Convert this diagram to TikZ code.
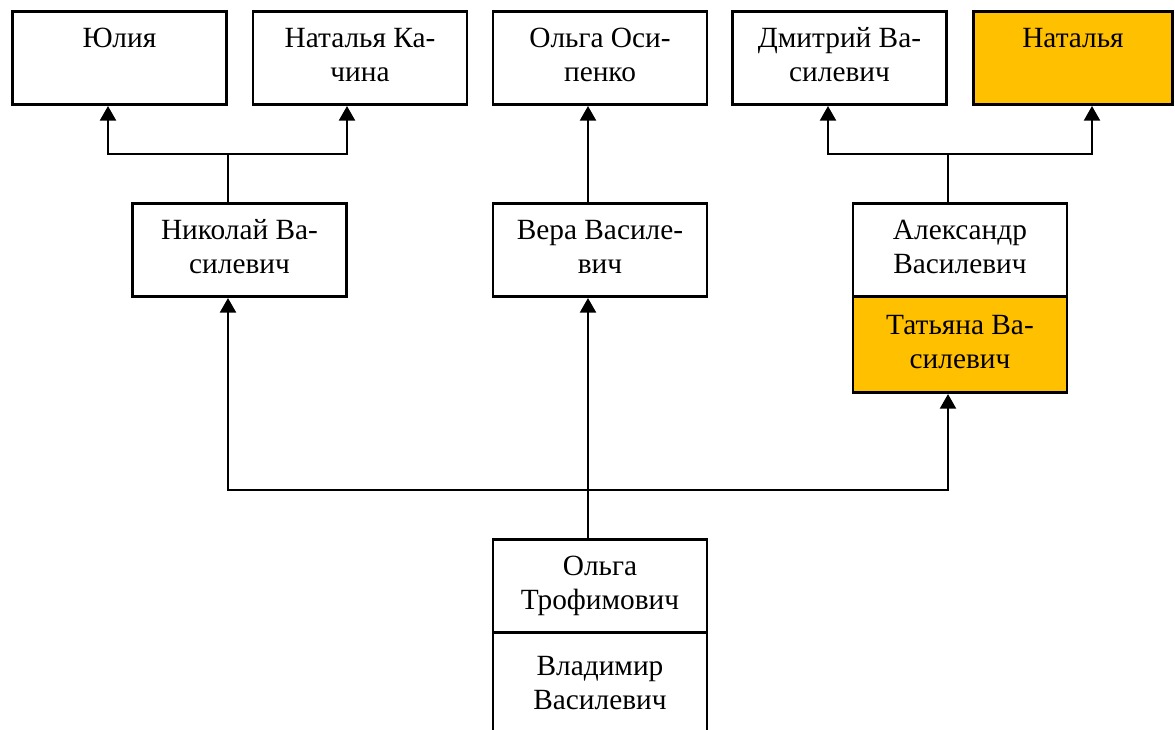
\documentclass[tikz,border=0pt]{standalone}
\usepackage{fontspec}
\setmainfont{Liberation Serif}
\usetikzlibrary{arrows.meta, positioning}
\definecolor{famgold}{RGB}{255,192,0}

\begin{document}
\begin{tikzpicture}[x=0.75pt, y=-0.75pt,
    >={Triangle[length=11pt, width=12pt]},
    person/.style={draw, line width=2pt, fill=white, minimum width=160.5pt, minimum height=70pt,
        text width=145pt, align=center, inner sep=0pt, font=\fontsize{22pt}{25.5pt}\selectfont,
        execute at begin node={\spaceskip=.25em\strut}, execute at end node=\strut},
    marked/.style={person, fill=famgold},
    link/.style={line width=1.7pt, ->},
    tie/.style={line width=1pt}]
    \useasboundingbox (0,0) rectangle (1175,730);

    % Children of the children
    \node[person] (yulia)   at (119.5,58) {Юлия\\};
    \node[person] (natkach) at (360,58)   {Наталья Ка-\\чина};
    \node[person] (olgaos)  at (600,58)   {Ольга Оси-\\пенко};
    \node[person] (dmitry)  at (839.5,58) {Дмитрий Ва-\\силевич};
    \node[marked, minimum width=149.5pt] (natalya) at (1073,58) {Наталья\\};

    % Children
    \node[person] (nikolay) at (239.5,250) {Николай Ва-\\силевич};
    \node[person] (vera)    at (600,250)   {Вера Василе-\\вич};
    \node[person] (alex)    at (960,250)   {Александр\\Василевич};
    \node[marked, minimum height=72pt] (tatyana) at (960,344.7) {Татьяна Ва-\\силевич};

    % Parents
    \node[person] (olgatr)  at (600,586) {Ольга\\Трофимович};
    \node[person, minimum height=80pt] (vladimir) at (600,686) {Владимир\\Василевич};

    % Junctions
    \coordinate (j1)  at (228,154);
    \coordinate (j1l) at (108,154);
    \coordinate (j1r) at (347,154);
    \coordinate (j2)  at (948,154);
    \coordinate (j2l) at (828,154);
    \coordinate (j2r) at (1092,154);
    \coordinate (b)   at (588,490);
    \coordinate (bl)  at (228,490);
    \coordinate (br)  at (948,490);

    % Upper links
    \draw[tie] (nikolay.north -| j1) -- (j1);
    \draw[link, <->] (j1l |- yulia.south) -- (j1l) -- (j1r) -- (j1r |- natkach.south);
    \draw[link] (vera.north -| b) -- (olgaos.south -| b);
    \draw[tie] (alex.north -| j2) -- (j2);
    \draw[link, <->] (j2l |- dmitry.south) -- (j2l) -- (j2r) -- (j2r |- natalya.south);

    % Lower links
    \draw[tie, line width=1.3pt] (olgatr.north -| b) -- (b);
    \draw[link] (b) -- (vera.south -| b);
    \draw[link, <->] (bl |- nikolay.south) -- (bl) -- (br) -- (br |- tatyana.south);
\end{tikzpicture}
\end{document}
